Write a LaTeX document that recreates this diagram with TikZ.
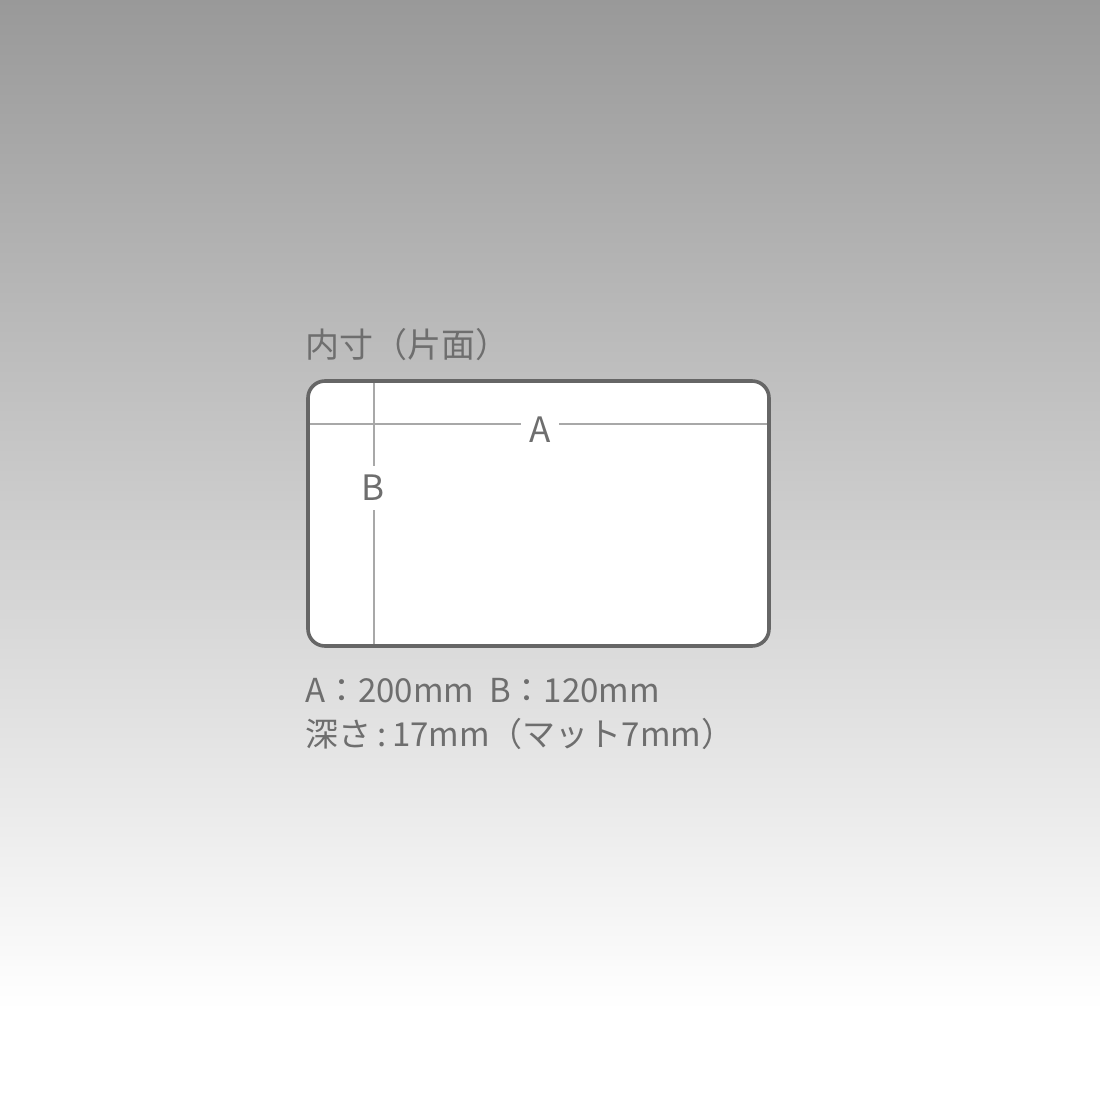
\documentclass[tikz,border=0pt]{standalone}
\usepackage{fontspec}
\newfontfamily\jp{Noto Sans CJK JP}
\definecolor{frame}{HTML}{666666}
\definecolor{guide}{HTML}{A8A8A8}
\definecolor{txt}{HTML}{6E6E6E}
\begin{document}
\begin{tikzpicture}[x=1pt,y=-1pt,
  lbl/.style={font=\jp\fontsize{33}{38}\selectfont, text=txt, inner sep=0pt, anchor=base west},
  dim/.style={font=\jp\fontsize{35}{38}\selectfont, text=txt, fill=white, inner sep=3pt}]
\useasboundingbox (0,0) rectangle (1100,1100);
\fill[white] (0,0) rectangle (1100,1100);
\shade[top color={rgb,255:red,153;green,153;blue,153}, bottom color=white] (0,0) rectangle (1100,1010);
% box
\draw[frame, line width=3.6pt, fill=white, rounded corners=17pt] (308,381) rectangle (769,646);
\coordinate (hl) at (310,424);
\coordinate (hr) at (767,424);
\coordinate (vt) at (374,383);
\coordinate (vb) at (374,644);
\draw[guide, line width=1.6pt] (hl) -- (hr);
\draw[guide, line width=1.6pt] (vt) -- (vb);
\node[dim, inner xsep=8pt, inner ysep=2pt] (A) at (540,430) {A};
\node[dim, inner xsep=2pt, inner ysep=9pt] (B) at (373,488) {B};
\node[lbl, font=\jp\fontsize{34}{38}\selectfont] (title) at (305,357) {内寸（片面）};
\node[lbl] (l1) at (305,702) {A：200mm\hspace{0.45em}B：120mm};
\node[lbl] (l2) at (305,746) {深さ\hspace{0.18em}:\hspace{0.18em}17mm（マット7mm）};
\end{tikzpicture}
\end{document}
